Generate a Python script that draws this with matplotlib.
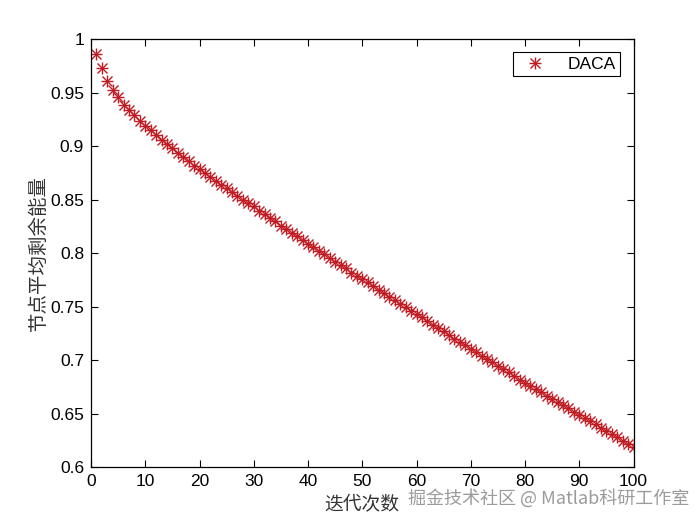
import matplotlib
matplotlib.use("Agg")
import matplotlib.pyplot as plt
from matplotlib.legend_handler import HandlerTuple

plt.rcParams['font.family'] = ['Liberation Sans', 'Noto Sans CJK SC', 'DejaVu Sans']

# iteration index and average residual energy
iters = list(range(1, 101))
energy = [
    0.986, 0.973, 0.961, 0.953, 0.946, 0.939, 0.934, 0.929, 0.924, 0.919,
    0.915, 0.911, 0.906, 0.902, 0.898, 0.894, 0.890, 0.886, 0.882, 0.879,
    0.875, 0.871, 0.868, 0.864, 0.861, 0.857, 0.854, 0.850, 0.847, 0.844,
    0.840, 0.837, 0.833, 0.830, 0.826, 0.823, 0.819, 0.816, 0.812, 0.809,
    0.806, 0.802, 0.799, 0.796, 0.792, 0.789, 0.786, 0.782, 0.779, 0.776,
    0.773, 0.769, 0.766, 0.763, 0.759, 0.756, 0.753, 0.750, 0.746, 0.743,
    0.740, 0.737, 0.733, 0.730, 0.727, 0.724, 0.720, 0.717, 0.714, 0.711,
    0.708, 0.704, 0.701, 0.698, 0.695, 0.692, 0.689, 0.685, 0.682, 0.679,
    0.676, 0.673, 0.670, 0.667, 0.664, 0.661, 0.658, 0.655, 0.652, 0.649,
    0.646, 0.643, 0.640, 0.637, 0.634, 0.631, 0.628, 0.625, 0.622, 0.619,
]
series_name = "DACA"
xticks = list(range(0, 101, 10))
yticks = [0.6, 0.65, 0.7, 0.75, 0.8, 0.85, 0.9, 0.95, 1.0]
ytick_labels = ["0.6", "0.65", "0.7", "0.75", "0.8", "0.85", "0.9", "0.95", "1"]

red = "#c01c24"
cjk = ['Noto Sans CJK SC', 'DejaVu Sans']

fig = plt.figure(figsize=(7, 5.25), dpi=100)
ax = fig.add_axes([0.13, 0.11, 0.775, 0.815])

# matlab style asterisk = plus + x on top of each other
h1, = ax.plot(iters, energy, linestyle="none", marker="+", ms=8.5, mew=1.0, color=red)
h2, = ax.plot(iters, energy, linestyle="none", marker="x", ms=6.5, mew=1.0, color=red)

ax.set_xlim(0, 100)
ax.set_ylim(0.6, 1.0)
ax.set_xticks(xticks)
ax.set_yticks(yticks)
ax.set_yticklabels(ytick_labels)
ax.tick_params(direction="in", length=5, width=0.8, top=True, right=True,
               labelsize=12.5, pad=5)
for s in ax.spines.values():
    s.set_linewidth(0.9)

ax.set_xlabel("迭代次数", fontsize=13.5, color="#333333", labelpad=4, family=cjk)
ax.set_ylabel("节点平均剩余能量", fontsize=14, color="#333333", labelpad=1, family=cjk)

leg = ax.legend([(h1, h2)], [series_name], loc="upper right",
                handler_map={tuple: HandlerTuple(ndivide=1)},
                fancybox=False, edgecolor="black", framealpha=1,
                fontsize=12.5, borderaxespad=0.75, handlelength=2.0,
                handletextpad=0.9, borderpad=0.25)
leg.get_frame().set_linewidth(0.8)

# watermark in the corner
fig.text(0.985, 0.05, "掘金技术社区 @ Matlab科研工作室", ha="right", va="center",
         fontsize=13, color="#8a8a8a", alpha=0.85, family=cjk)

fig.savefig("out.png", dpi=100)
